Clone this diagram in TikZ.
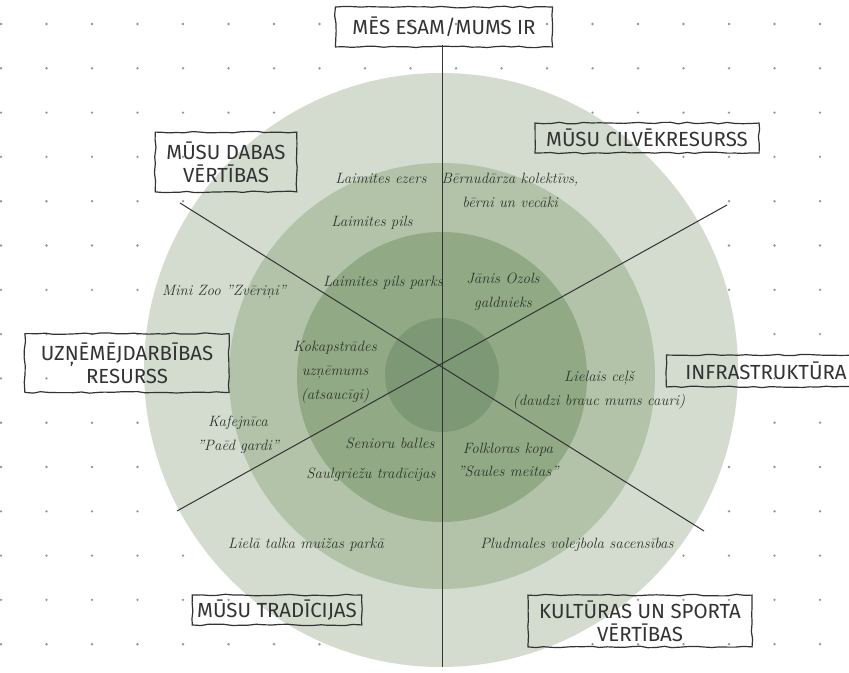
\documentclass[tikz,border=0pt]{standalone}
\usepackage{fontspec}
\newfontfamily\labelfont{Fira Sans}
\usetikzlibrary{decorations.pathmorphing}
\definecolor{ring1}{HTML}{D3DCCF}
\definecolor{ring2}{HTML}{B2C3AA}
\definecolor{ring3}{HTML}{91AA85}
\definecolor{ring4}{HTML}{7D9874}
\definecolor{dotc}{HTML}{8C9C8A}
\definecolor{ink}{HTML}{333333}
\definecolor{scriptc}{HTML}{2E352C}
\begin{document}
\begin{tikzpicture}[x=1bp,y=-1bp,
  lbl/.style={font=\labelfont\fontsize{20.5}{23}\selectfont, text=ink, align=center, inner sep=0pt,
    draw=ink, line width=1.2bp, decorate, decoration={random steps, segment length=8bp, amplitude=0.8bp}},
  scr/.style={font=\itshape\fontsize{15}{24}\selectfont, text=scriptc, align=center, inner sep=0pt},
  divider/.style={draw=ink, line width=1bp}
]
\pgfmathsetseed{7}
\useasboundingbox (0,0) rectangle (849,673);
\fill[white] (0,0) rectangle (849,673);
% dotted grid
\foreach \i in {0,...,18}
  \foreach \j in {0,...,14}
    \fill[dotc] ({1+45.5*\i},{24+44.3*\j}) circle (1.3);
% rings
\fill[ring1] (441,370) circle (297);
\fill[ring2] (442,376) circle (213);
\fill[ring3] (442,377) circle (145);
\fill[ring4] (442,375) circle (57);
% dividers
\coordinate (vt) at (442,45);
\coordinate (vb) at (442,667);
\coordinate (d1a) at (180,203);
\coordinate (d1b) at (704,531);
\coordinate (d2a) at (727,205);
\coordinate (d2b) at (177,511);
\draw[divider] (vt) -- (vb);
\draw[divider] (d1a) -- (d1b);
\draw[divider] (d2a) -- (d2b);
% category labels
\node[lbl, minimum width=218, minimum height=40] (mes) at (444,27) {MĒS ESAM/MUMS IR};
\node[lbl, minimum width=142, minimum height=60] (dabas) at (226,162) {MŪSU DABAS\\VĒRTĪBAS};
\node[lbl, minimum width=225, minimum height=30] (cilv) at (647,138) {MŪSU CILVĒKRESURSS};
\node[lbl, minimum width=205, minimum height=59] (uzn) at (127,363) {UZŅĒMĒJDARBĪBAS\\RESURSS};
\node[lbl, minimum width=200, minimum height=32] (infra) at (766,371) {INFRASTRUKTŪRA};
\node[lbl, minimum width=170, minimum height=30] (trad) at (277,610) {MŪSU TRADĪCIJAS};
\node[lbl, minimum width=225, minimum height=52] (kult) at (640,621) {KULTŪRAS UN SPORTA\\VĒRTĪBAS};
% items
\node[scr] (t1) at (381,178) {Laimites ezers};
\node[scr] (t2) at (510,190) {Bērnudārza kolektīvs,\\bērni un vecāki};
\node[scr] (t3) at (372,223) {Laimites pils};
\node[scr] (t4) at (383,283) {Laimites pils parks};
\node[scr] (t5) at (503,292) {Jānis Ozols\\galdnieks};
\node[scr] (t6) at (224,292) {Mini Zoo "Zvēriņi"};
\node[scr] (t7) at (335,372) {Kokapstrādes\\uzņēmums\\(atsaucīgi)};
\node[scr] (t8) at (599,390) {Lielais ceļš\\(daudzi brauc mums cauri)};
\node[scr] (t9) at (238,435) {Kafejnīca\\"Paēd gardi"};
\node[scr] (t10) at (390,443) {Senioru balles};
\node[scr] (t11) at (508,460) {Folkloras kopa\\"Saules meitas"};
\node[scr] (t12) at (371,475) {Saulgriežu tradīcijas};
\node[scr] (t13) at (306,545) {Lielā talka muižas parkā};
\node[scr] (t14) at (577,545) {Pludmales volejbola sacensības};
\end{tikzpicture}
\end{document}
